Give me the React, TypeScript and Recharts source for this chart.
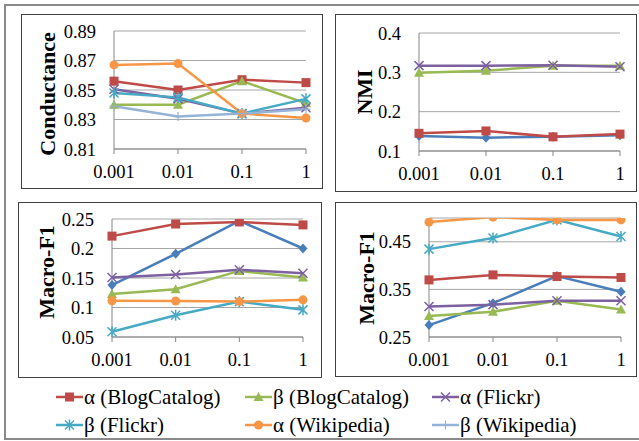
import React from "react"
import { LineChart, Line, XAxis, YAxis, CartesianGrid } from "recharts"

// x categories (regularisation weight)
const lambdas = ["0.001", "0.01", "0.1", "1"]

// Conductance panel
const condAlphaBlog = [0.856, 0.85, 0.857, 0.855]
const condBetaBlog = [0.84, 0.84, 0.856, 0.841]
const condAlphaFlickr = [0.8505, 0.844, 0.834, 0.838]
const condBetaFlickr = [0.848, 0.845, 0.834, 0.844]
const condAlphaWiki = [0.867, 0.868, 0.834, 0.831]
const condBetaWiki = [0.839, 0.832, 0.834, 0.837]
const condTicks = [0.81, 0.83, 0.85, 0.87, 0.89]

// NMI panel
const nmiBase = [0.138, 0.134, 0.136, 0.14]
const nmiAlphaBlog = [0.145, 0.151, 0.136, 0.143]
const nmiBetaBlog = [0.299, 0.304, 0.317, 0.317]
const nmiAlphaFlickr = [0.317, 0.317, 0.318, 0.314]
const nmiTicks = [0.1, 0.2, 0.3, 0.4]

// Macro-F1 (left)
const f1aBase = [0.138, 0.191, 0.247, 0.2]
const f1aAlphaBlog = [0.221, 0.2415, 0.245, 0.24]
const f1aBetaBlog = [0.123, 0.131, 0.162, 0.151]
const f1aAlphaFlickr = [0.151, 0.156, 0.164, 0.158]
const f1aBetaFlickr = [0.059, 0.087, 0.11, 0.096]
const f1aAlphaWiki = [0.1115, 0.111, 0.11, 0.113]
const f1aTicks = [0.05, 0.1, 0.15, 0.2, 0.25]

// Macro-F1 (right)
const f1bBase = [0.275, 0.321, 0.378, 0.345]
const f1bAlphaBlog = [0.37, 0.3805, 0.377, 0.375]
const f1bBetaBlog = [0.294, 0.303, 0.326, 0.308]
const f1bAlphaFlickr = [0.314, 0.318, 0.326, 0.326]
const f1bBetaFlickr = [0.4346, 0.458, 0.496, 0.461]
const f1bAlphaWiki = [0.4915, 0.502, 0.496, 0.496]
const f1bTicks = [0.25, 0.35, 0.45]

const legendNames = ["α (BlogCatalog)", "β (BlogCatalog)", "α (Flickr)", "β (Flickr)", "α (Wikipedia)", "β (Wikipedia)"]

const SERIES: Record<string, { color: string; shape: string }> = {
  base: { color: "#4A7EBB", shape: "diamond" },
  alphaBlog: { color: "#BE4B48", shape: "square" },
  betaBlog: { color: "#98B954", shape: "triangle" },
  alphaFlickr: { color: "#7D60A0", shape: "x" },
  betaFlickr: { color: "#46AAC5", shape: "star" },
  alphaWiki: { color: "#F79646", shape: "circle" },
  betaWiki: { color: "#95B3D7", shape: "plus" },
}
const legendKeys = ["alphaBlog", "betaBlog", "alphaFlickr", "betaFlickr", "alphaWiki", "betaWiki"]

const serif = "'Liberation Serif', 'Times New Roman', serif"

function Marker({ shape, cx, cy, color }: any) {
  if (cx == null || cy == null) return null
  const s = 4.5
  switch (shape) {
    case "square":
      return <rect x={cx - s} y={cy - s} width={2 * s} height={2 * s} fill={color} />
    case "circle":
      return <circle cx={cx} cy={cy} r={s} fill={color} />
    case "triangle":
      return <polygon points={`${cx},${cy - s - 0.5} ${cx + s + 0.5},${cy + s - 0.5} ${cx - s - 0.5},${cy + s - 0.5}`} fill={color} />
    case "diamond":
      return <polygon points={`${cx},${cy - s - 0.5} ${cx + s},${cy} ${cx},${cy + s + 0.5} ${cx - s},${cy}`} fill={color} />
    case "x":
      return <path d={`M${cx - s},${cy - s}L${cx + s},${cy + s}M${cx + s},${cy - s}L${cx - s},${cy + s}`} stroke={color} strokeWidth={1.5} />
    case "star":
      return <path d={`M${cx - s},${cy - s}L${cx + s},${cy + s}M${cx + s},${cy - s}L${cx - s},${cy + s}M${cx},${cy - s - 1}L${cx},${cy + s + 1}`} stroke={color} strokeWidth={1.5} />
    case "plus":
      return <path d={`M${cx - s},${cy}L${cx + s},${cy}M${cx},${cy - s}L${cx},${cy + s}`} stroke={color} strokeWidth={1.2} />
    default:
      return null
  }
}

function buildRows(series: Record<string, number[]>) {
  return lambdas.map((l, i) => {
    const row: any = { lambda: l }
    Object.keys(series).forEach((k) => (row[k] = series[k][i]))
    return row
  })
}

interface PanelProps {
  box: [number, number, number, number]
  plot: [number, number, number, number] // left, top, right, bottom in page coords
  domain: [number, number]
  ticks: number[]
  label: string
  labelAt: [number, number]
  series: Record<string, number[]>
}

function Panel({ box, plot, domain, ticks, label, labelAt, series }: PanelProps) {
  const [bx, by, bw, bh] = box
  const left = plot[0] - bx
  const top = plot[1] - by
  const right = bx + bw - plot[2]
  const bottom = by + bh - plot[3]
  const data = buildRows(series)
  return (
    <>
      <div style={{ position: "absolute", left: bx, top: by, width: bw, height: bh, border: "1.5px solid #404040", boxSizing: "border-box" }} />
      <div style={{ position: "absolute", left: bx, top: by }}>
        <LineChart width={bw} height={bh} data={data} margin={{ top, right, bottom: 0, left: 0 }}>
          <CartesianGrid vertical={false} stroke="#A6A6A6" strokeWidth={1} />
          <XAxis
            dataKey="lambda"
            height={bottom}
            interval={0}
            axisLine={{ stroke: "#868686", strokeWidth: 1 }}
            tickLine={{ stroke: "#868686" }}
            tickSize={5}
            tickMargin={11}
            tick={{ fontFamily: serif, fontSize: 18.5, fill: "#000" }}
          />
          <YAxis
            type="number"
            width={left}
            domain={domain}
            ticks={ticks}
            allowDataOverflow
            axisLine={{ stroke: "#868686", strokeWidth: 1 }}
            tickLine={false}
            tickSize={0}
            tickMargin={18}
            tick={{ fontFamily: serif, fontSize: 18.5, fill: "#000" }}
          />
          {Object.keys(series).map((k) => (
            <Line
              key={k}
              dataKey={k}
              stroke={SERIES[k].color}
              strokeWidth={2.5}
              isAnimationActive={false}
              dot={(p: any) => <Marker key={`${k}-${p.index}`} shape={SERIES[k].shape} cx={p.cx} cy={p.cy} color={SERIES[k].color} />}
              activeDot={false}
            />
          ))}
        </LineChart>
      </div>
      <div
        style={{
          position: "absolute",
          left: labelAt[0],
          top: labelAt[1],
          transform: "translate(-50%, -50%) rotate(-90deg)",
          fontFamily: serif,
          fontWeight: "bold",
          fontSize: 22,
          whiteSpace: "nowrap",
          lineHeight: 1,
        }}
      >
        {label}
      </div>
    </>
  )
}

function LegendItem({ k, name, x, y }: { k: string; name: string; x: number; y: number }) {
  const { color, shape } = SERIES[k]
  return (
    <div style={{ position: "absolute", left: x, top: y - 13, height: 26, display: "flex", alignItems: "center", whiteSpace: "nowrap" }}>
      <svg width={27} height={14}>
        <line x1={0} y1={7} x2={27} y2={7} stroke={color} strokeWidth={2.5} />
        <Marker shape={shape} cx={13.5} cy={7} color={color} />
      </svg>
      <span style={{ fontFamily: serif, fontSize: 21, marginLeft: 1, color: "#000" }}>{name}</span>
    </div>
  )
}

export default function App() {
  const cols = [56, 245, 432]
  const rows = [397, 425]
  return (
    <div style={{ position: "absolute", left: 0, top: 0, width: 639, height: 441, background: "#fff", overflow: "hidden" }}>
      <div style={{ position: "absolute", left: 4, top: 4, width: 645, height: 436, border: "2px solid #8A8A8A", boxSizing: "border-box" }} />
      <Panel
        box={[21, 14, 302, 175]}
        plot={[114, 31, 306, 149]}
        domain={[0.81, 0.89]}
        ticks={condTicks}
        label="Conductance"
        labelAt={[48, 94]}
        series={{ alphaBlog: condAlphaBlog, betaBlog: condBetaBlog, alphaFlickr: condAlphaFlickr, betaFlickr: condBetaFlickr, alphaWiki: condAlphaWiki, betaWiki: condBetaWiki }}
      />
      <Panel
        box={[335, 14, 302, 178]}
        plot={[419, 33, 620, 151]}
        domain={[0.1, 0.4]}
        ticks={nmiTicks}
        label="NMI"
        labelAt={[365, 92]}
        series={{ base: nmiBase, alphaBlog: nmiAlphaBlog, betaBlog: nmiBetaBlog, alphaFlickr: nmiAlphaFlickr }}
      />
      <Panel
        box={[18, 202, 304, 176]}
        plot={[112, 219, 303, 337]}
        domain={[0.05, 0.25]}
        ticks={f1aTicks}
        label="Macro-F1"
        labelAt={[47, 272]}
        series={{ base: f1aBase, alphaBlog: f1aAlphaBlog, betaBlog: f1aBetaBlog, alphaFlickr: f1aAlphaFlickr, betaFlickr: f1aBetaFlickr, alphaWiki: f1aAlphaWiki }}
      />
      <Panel
        box={[335, 202, 302, 175]}
        plot={[429, 218, 621, 337]}
        domain={[0.25, 0.5]}
        ticks={f1bTicks}
        label="Macro-F1"
        labelAt={[367, 278]}
        series={{ base: f1bBase, alphaBlog: f1bAlphaBlog, betaBlog: f1bBetaBlog, alphaFlickr: f1bAlphaFlickr, betaFlickr: f1bBetaFlickr, alphaWiki: f1bAlphaWiki }}
      />
      {legendKeys.map((k, i) => (
        <LegendItem key={k} k={k} name={legendNames[i]} x={cols[i % 3]} y={rows[Math.floor(i / 3)]} />
      ))}
    </div>
  )
}
